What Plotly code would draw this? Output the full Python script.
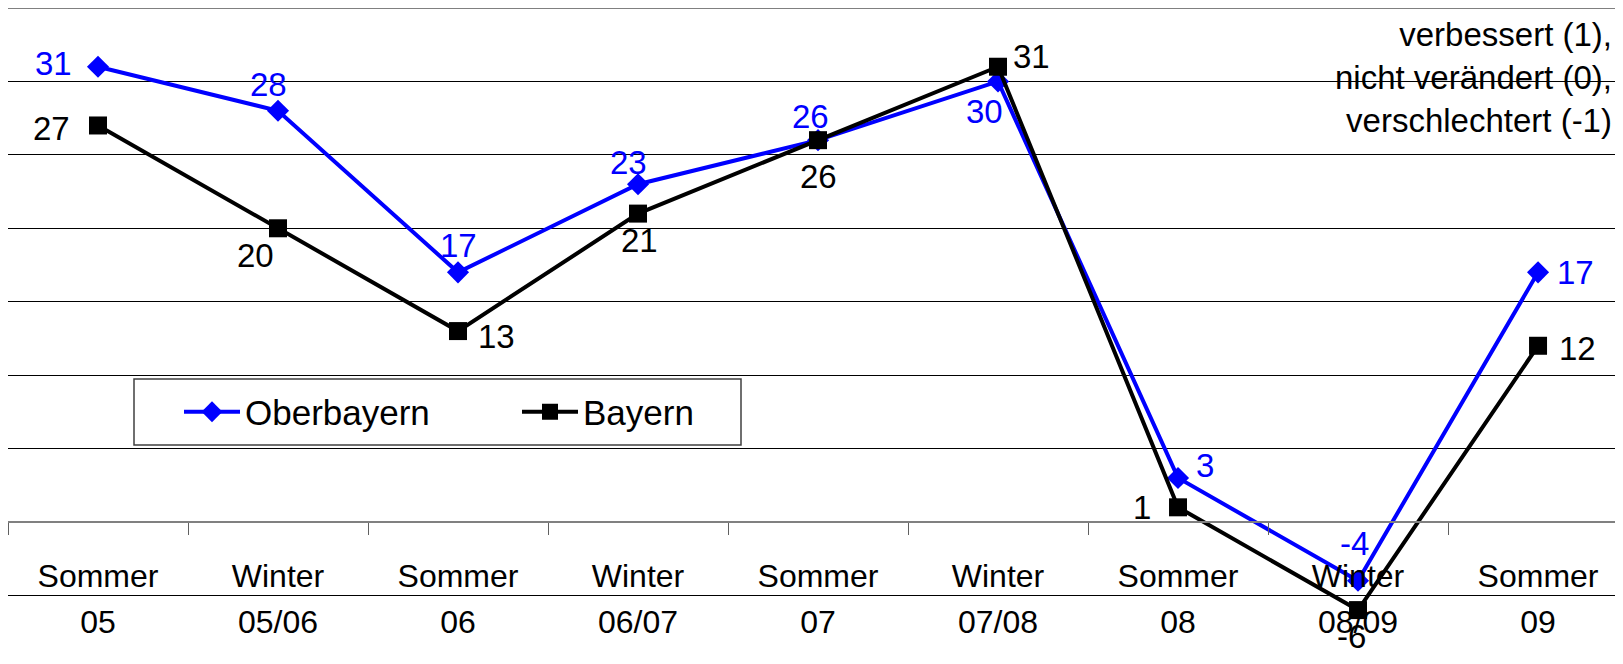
import plotly.graph_objects as go

# Periods (season + year) and the two series
season = ["Sommer", "Winter", "Sommer", "Winter", "Sommer", "Winter", "Sommer", "Winter", "Sommer"]
year = ["05", "05/06", "06", "06/07", "07", "07/08", "08", "08/09", "09"]
periods = [f"{s} {y}" for s, y in zip(season, year)]

oberbayern = [31, 28, 17, 23, 26, 30, 3, -4, 17]
bayern = [27, 20, 13, 21, 26, 31, 1, -6, 12]

# label offsets (px) relative to each marker, as in the original chart
ob_shift = [(-45, 3), (-10, 26), (0, 27), (-10, 22), (-8, 24), (-14, -30), (27, 12), (-4, 37), (37, 0)]
by_shift = [(-47, -3), (-23, -27), (38, -5), (1, -27), (0, -36), (33, 10), (-36, 0), (-7, -26), (39, -3)]

FONT = "Liberation Sans, Arial, sans-serif"
BLUE = '#0000FF'
# the page body adds an 8px offset, so the figure is 8px smaller than the window
W, H = 1615, 656
Y_MIN, Y_MAX = -9.67, 35
X_MIN, X_MAX = -0.5, 8.472
zero_pos = (0 - Y_MIN) / (Y_MAX - Y_MIN)


def px_x(px):
    return (px - 8) / W


def px_y(py):
    return (664 - py) / H


fig = go.Figure()

fig.add_trace(go.Scatter(
    x=periods, y=oberbayern,
    mode='lines+markers',
    name='Oberbayern',
    line=dict(color=BLUE, width=4),
    marker=dict(symbol='diamond', size=17, color=BLUE),
    cliponaxis=False,
))

fig.add_trace(go.Scatter(
    x=periods, y=bayern,
    mode='lines+markers',
    name='Bayern',
    line=dict(color='black', width=4),
    marker=dict(symbol='square', size=18, color='black'),
    cliponaxis=False,
))

# invisible helper so the second (year) label axis gets drawn
fig.add_trace(go.Scatter(
    x=list(range(len(year))), y=bayern, xaxis='x2',
    mode='markers', marker=dict(opacity=0),
    showlegend=False, hoverinfo='skip',
))

annotations = []
for series, shifts, color in [(oberbayern, ob_shift, BLUE), (bayern, by_shift, 'black')]:
    for p, v, (dx, dy) in zip(periods, series, shifts):
        annotations.append(dict(
            x=p, y=v, xref='x', yref='y', text=str(v), showarrow=False,
            xshift=dx, yshift=dy,
            font=dict(family=FONT, size=33, color=color),
        ))

annotations.append(dict(
    xref='paper', yref='paper',
    x=px_x(1614), y=px_y(14),
    xanchor='right', yanchor='top', align='right',
    text='verbessert (1),<br>nicht verändert (0),<br>verschlechtert (-1)',
    showarrow=False,
    font=dict(family=FONT, size=33, color='black'),
))

fig.update_layout(
    width=W, height=H,
    margin=dict(l=0, r=0, t=0, b=0, autoexpand=False),
    plot_bgcolor='white',
    paper_bgcolor='white',
    font=dict(family=FONT, size=32, color='black'),
    xaxis=dict(
        type='category',
        range=[X_MIN, X_MAX],
        anchor='free', position=zero_pos,
        tickmode='array', tickvals=periods, ticktext=season,
        tickson='boundaries',
        ticks='outside', ticklen=12, tickwidth=1, tickcolor='#606060',
        showline=True, linecolor='#808080', linewidth=2,
        showgrid=False, zeroline=False,
        ticklabelstandoff=26,
        tickfont=dict(family=FONT, size=32, color='black'),
    ),
    xaxis2=dict(
        type='linear',
        overlaying='x',
        range=[X_MIN, X_MAX],
        anchor='free', position=zero_pos,
        tickmode='array', tickvals=list(range(len(year))), ticktext=year,
        ticks='', showline=False, showgrid=False, zeroline=False,
        ticklabelstandoff=78,
        tickfont=dict(family=FONT, size=32, color='black'),
    ),
    yaxis=dict(
        range=[Y_MIN, Y_MAX],
        dtick=5, tick0=0,
        showticklabels=False, ticks='',
        showgrid=True, gridcolor='black', gridwidth=1,
        zeroline=False,
        showline=True, linecolor='#808080', linewidth=2,
    ),
    legend=dict(
        orientation='h',
        x=px_x(179), y=px_y(412),
        xanchor='left', yanchor='middle',
        bgcolor='rgba(0,0,0,0)', borderwidth=0,
        font=dict(family=FONT, size=35, color='black'),
        itemwidth=56,
        entrywidth=267, entrywidthmode='pixels',
    ),
    showlegend=True,
    shapes=[
        dict(type='line', xref='paper', yref='paper', x0=0, x1=1, y0=1, y1=1,
             line=dict(color='#808080', width=2)),
        dict(type='rect', xref='paper', yref='paper',
             x0=px_x(134), x1=px_x(741), y0=px_y(445), y1=px_y(379),
             line=dict(color='#404040', width=1.5)),
    ],
    annotations=annotations,
)

fig.write_html("out.html")
